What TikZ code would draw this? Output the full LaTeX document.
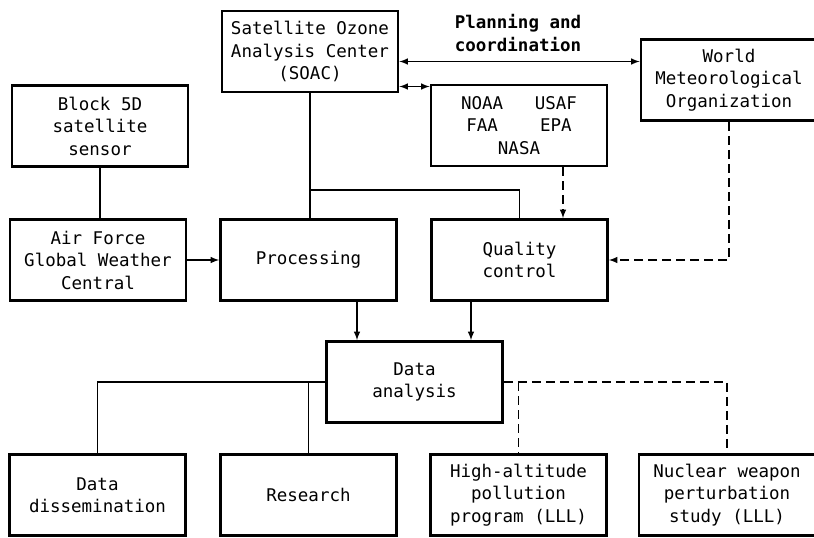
\documentclass[tikz,border=0pt]{standalone}
\usepackage{fontspec}
\newfontfamily\boxfont{DejaVu Sans Mono}
\usetikzlibrary{arrows}

\begin{document}
\begin{tikzpicture}[x=1pt,y=-1pt,
  box/.style={draw,line width=2.8pt,rectangle,align=center,
    minimum width=176pt,minimum height=81pt,inner sep=0pt,
    font=\boxfont\fontsize{17.5}{22.5}\selectfont},
  link/.style={line width=1.9pt},
  dashlink/.style={line width=1.9pt,dash pattern=on 9pt off 5pt}]
  \useasboundingbox (0,0) rectangle (814,538);

  \node[box] (soac) at (310,51.5) {Satellite Ozone\\Analysis Center\\(SOAC)};
  \node[box] (block) at (100,126) {Block 5D\\satellite\\sensor};
  \node[box] (noaa) at (519,125.5) {NOAA~~~USAF\\FAA~~~~EPA\\NASA};
  \node[box] (wmo) at (729,80) {World\\Meteorological\\Organization};
  \node[box] (af) at (98,260) {Air Force\\Global Weather\\Central};
  \node[box] (proc) at (308.5,260) {Processing};
  \node[box] (qc) at (519.5,260) {Quality\\control};
  \node[box] (da) at (414.5,382) {Data\\analysis};
  \node[box] (dd) at (97.5,495) {Data\\dissemination};
  \node[box] (res) at (308.5,495) {Research};
  \node[box] (hap) at (518.5,495) {High-altitude\\pollution\\program (LLL)};
  \node[box] (nuc) at (727,495) {Nuclear weapon\\perturbation\\study (LLL)};

  \node[align=left,font=\boxfont\bfseries\fontsize{17.5}{22.5}\selectfont] (plan) at (518,33) {Planning and\\coordination};

  \draw[link] (block.south) -- (block.south |- af.north);
  \draw[link,-latex] (af) -- (proc);
  \draw[link] (soac.south) -- (soac.south |- proc.north);
  \coordinate (j1) at (309,190);
  \draw[link] (j1) -| (qc.north);
  \draw[link,latex-latex] ([yshift=-10pt]soac.east) -- ([yshift=-10pt]soac.east -| wmo.west);
  \draw[link,latex-latex] ([yshift=-35pt]soac.east) -- ([yshift=-35pt]soac.east -| noaa.west);
  \draw[dashlink,-latex] ([xshift=44pt]noaa.south) -- ([xshift=44pt]noaa.south |- qc.north);
  \draw[dashlink,-latex] (wmo.south) |- (qc.east);
  \draw[link,-latex] ([xshift=48.5pt]proc.south) -- ([xshift=48.5pt]proc.south |- da.north);
  \draw[link,-latex] ([xshift=-48.5pt]qc.south) -- ([xshift=-48.5pt]qc.south |- da.north);
  \draw[link] (da.west) -| (dd.north);
  \draw[link] (da.west -| res.north) -- (res.north);
  \draw[dashlink] (da.east) -| (nuc.north);
  \draw[dashlink] (da.east -| hap.north) -- (hap.north);
\end{tikzpicture}
\end{document}
